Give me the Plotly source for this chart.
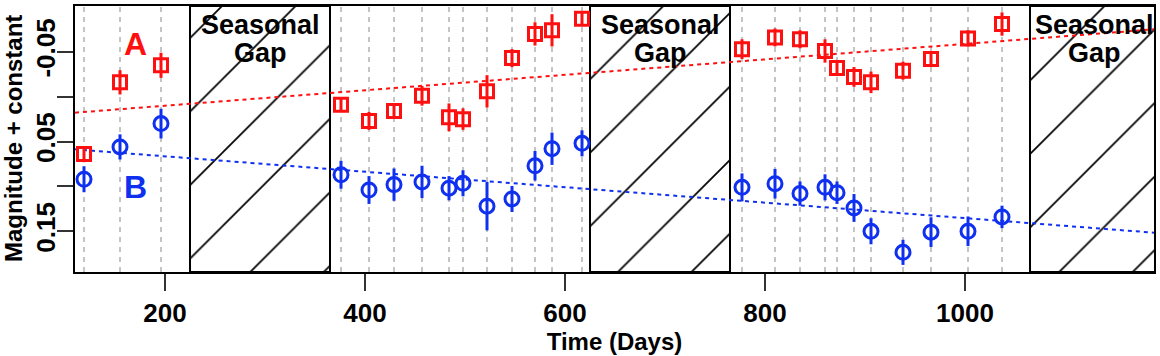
import plotly.graph_objects as go

# ---- data ----
days = [119, 155, 196,
        376, 404, 429, 457, 484, 498, 522, 547, 570, 587, 617,
        777, 810, 835, 860, 872, 889, 906, 938, 966, 1003, 1037]

mag_A = [0.064, -0.016, -0.035,
         0.009, 0.027, 0.016, -0.001, 0.023, 0.025, -0.006, -0.043, -0.070, -0.074, -0.087,
         -0.053, -0.066, -0.064, -0.051, -0.032, -0.022, -0.016, -0.029, -0.042, -0.065, -0.081]
err_A = [0.009, 0.0135, 0.014,
         0.007, 0.010, 0.008, 0.011, 0.0155, 0.012, 0.018, 0.010, 0.013, 0.018, 0.008,
         0.011, 0.010, 0.010, 0.013, 0.009, 0.011, 0.012, 0.010, 0.009, 0.009, 0.013]

mag_B = [0.092, 0.056, 0.030,
         0.087, 0.104, 0.098, 0.095, 0.102, 0.0965, 0.122, 0.114, 0.077, 0.058, 0.052,
         0.101, 0.097, 0.108, 0.101, 0.107, 0.124, 0.150, 0.1735, 0.151, 0.150, 0.134]
err_B = [0.0145, 0.014, 0.0165,
         0.0155, 0.0155, 0.018, 0.018, 0.0135, 0.0145, 0.027, 0.0145, 0.0165, 0.018, 0.0145,
         0.0155, 0.0165, 0.0135, 0.0145, 0.0125, 0.0155, 0.0145, 0.014, 0.0165, 0.0165, 0.0125]

# linear trend lines (end points)
fit_days = [110, 1189]
fit_A = [0.0178, -0.0751]
fit_B = [0.0587, 0.1516]

# seasonal gaps (start, end day)
gap_start = [225, 625, 1065]
gap_end = [365, 765, 1205]
gap_label_x = [295, 695, 1129]

x_ticks = [200, 400, 600, 800, 1000]
y_ticks = [-0.05, 0.0, 0.05, 0.10, 0.15]
y_ticktext = ["-0.05", "", "0.05", "", "0.15"]

X_RANGE = [110, 1189]
Y_RANGE = [0.1954, -0.1011]  # reversed magnitude axis

RED = "#FF1010"
BLUE = "#1030F0"
FONT = "Liberation Sans, Arial, sans-serif"

fig = go.Figure()

# hatched seasonal gaps
fig.add_trace(go.Bar(
    x=[(s + e) / 2 for s, e in zip(gap_start, gap_end)],
    width=[e - s for s, e in zip(gap_start, gap_end)],
    base=[Y_RANGE[0]] * len(gap_start),
    y=[Y_RANGE[1] - Y_RANGE[0]] * len(gap_start),
    marker=dict(color="white", line=dict(color="black", width=2),
                pattern=dict(shape="/", fgcolor="black", bgcolor="white",
                             size=52, solidity=0.033, fgopacity=1)),
    hoverinfo="skip", showlegend=False,
))

# trend lines
fig.add_trace(go.Scatter(x=fit_days, y=fit_A, mode="lines",
                         line=dict(color=RED, width=2, dash="4px,4px"), showlegend=False))
fig.add_trace(go.Scatter(x=fit_days, y=fit_B, mode="lines",
                         line=dict(color=BLUE, width=2, dash="4px,4px"), showlegend=False))

# data
fig.add_trace(go.Scatter(
    x=days, y=mag_A, mode="markers",
    marker=dict(symbol="square-open", size=13, color=RED, line=dict(width=3, color=RED)),
    error_y=dict(type="data", array=err_A, color=RED, thickness=3, width=0),
    showlegend=False))
fig.add_trace(go.Scatter(
    x=days, y=mag_B, mode="markers",
    marker=dict(symbol="circle-open", size=14, color=BLUE, line=dict(width=3, color=BLUE)),
    error_y=dict(type="data", array=err_B, color=BLUE, thickness=3, width=0),
    showlegend=False))

# epoch markers
for d in days:
    fig.add_shape(type="line", x0=d, x1=d, y0=0, y1=1, xref="x", yref="paper",
                  line=dict(color="#8a8a8a", width=1, dash="5px,5px"), layer="below")

# labels
gap_font = dict(family=FONT, size=27, color="black", weight="bold")
for gx in gap_label_x:
    fig.add_annotation(x=gx, y=-0.0795, text="Seasonal", showarrow=False,
                       font=gap_font, yanchor="middle")
    fig.add_annotation(x=gx, y=-0.0490, text="Gap", showarrow=False,
                       font=gap_font, yanchor="middle")
fig.add_annotation(x=170, y=-0.059, text="A", showarrow=False,
                   font=dict(family=FONT, size=32, color=RED, weight="bold"))
fig.add_annotation(x=170, y=0.1007, text="B", showarrow=False,
                   font=dict(family=FONT, size=32, color=BLUE, weight="bold"))

# y-axis title
fig.add_annotation(xref="paper", yref="paper", x=0, y=0.5, xanchor="center", yanchor="middle",
                   xshift=-62, text="Magnitude + constant", textangle=-90, showarrow=False,
                   font=dict(family=FONT, size=24, color="black", weight="bold"))

fig.update_layout(
    width=1160, height=356,
    margin=dict(l=75, r=6, t=6, b=84),
    plot_bgcolor="white", paper_bgcolor="white",
    bargap=0,
    font=dict(family=FONT, color="black", size=24, weight="bold"),
)
fig.update_xaxes(range=X_RANGE, tickvals=x_ticks, ticks="outside", ticklen=17, tickwidth=1.5,
                 tickcolor="#333", showgrid=False, zeroline=False, automargin=False,
                 showline=True, linecolor="black", linewidth=2, mirror=True,
                 tickfont=dict(family=FONT, size=26, weight="bold"),
                 title=dict(text="Time (Days)", standoff=6,
                            font=dict(family=FONT, size=24, weight="bold")))
fig.update_yaxes(range=Y_RANGE, tickvals=y_ticks, ticktext=y_ticktext, ticks="outside",
                 ticklen=16, tickwidth=1.5, tickcolor="#333", tickangle=-90,
                 ticklabelstandoff=-8,
                 showgrid=False, zeroline=False, automargin=False,
                 showline=True, linecolor="black", linewidth=2, mirror=True,
                 tickfont=dict(family=FONT, size=26, weight="bold"))

# remove the browser's default 8 px page margin so the figure fills the window
fig.write_html("out.html", config={"displayModeBar": False},
               post_script="document.body.style.margin='0';")
